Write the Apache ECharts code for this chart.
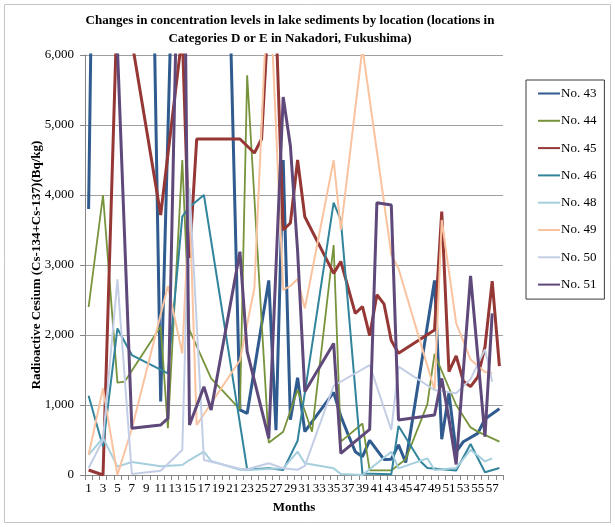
<!DOCTYPE html>
<html><head><meta charset="utf-8">
<script src="https://cdn.jsdelivr.net/npm/echarts@6/dist/echarts.min.js"></script>
<style>html,body{margin:0;padding:0;background:#fff}#c{width:615px;height:527px}</style>
</head><body><div id="c"></div>
<script>
// Months 1..58
const months = ['1','2','3','4','5','6','7','8','9','10','11','12','13','14','15','16','17','18','19','20','21','22','23','24','25','26','27','28','29','30','31','32','33','34','35','36','37','38','39','40','41','42','43','44','45','46','47','48','49','50','51','52','53','54','55','56','57','58'];
const yTicks = [0, 1000, 2000, 3000, 4000, 5000, 6000];
const seriesNames = ['No. 43','No. 44','No. 45','No. 46','No. 48','No. 49','No. 50','No. 51'];

const no43 = [3800,11400,null,null,null,null,null,null,null,7100,
  1050,null,8700,null,null,null,null,null,null,9200,
  null,930,880,null,null,2780,640,4500,790,1390,
  620,null,null,null,1180,840,580,333,262,495,
  null,220,225,430,180,null,null,null,2780,510,
  1170,330,476,null,595,800,null,945];
const no44 = [2400,null,4000,null,1320,1333,null,null,null,null,
  2120,667,null,4500,2070,null,null,1380,null,null,
  null,938,5710,null,null,462,null,619,null,1214,
  null,619,null,null,3285,476,null,null,735,65,
  null,null,65,null,225,null,null,1010,1730,null,
  null,1000,null,680,620,null,null,476];
const no45 = [71,null,0,null,6800,null,6200,null,null,null,
  3714,null,null,6300,3100,4800,null,null,null,null,
  null,4800,null,4600,4800,6670,6500,3500,3600,4500,
  3690,null,null,null,2880,3050,null,2310,2405,1990,
  2575,2440,1920,1738,null,null,null,null,2071,3762,
  1476,1700,1340,1262,1400,1830,2770,1555];
const no46 = [1133,null,405,null,2094,null,1714,null,null,null,
  null,1452,null,3690,3830,null,4000,null,null,null,
  null,null,80,null,null,95,null,70,null,490,
  null,null,null,null,3890,3640,null,null,20,null,
  null,null,10,700,null,null,200,100,null,null,
  null,65,null,443,null,40,null,100];
const no48 = [286,null,530,null,119,null,186,null,null,null,
  125,null,null,143,214,null,333,200,null,null,
  null,75,70,null,null,null,null,95,null,333,
  167,null,null,null,95,14,null,null,0,null,
  null,null,333,95,null,null,null,238,71,null,
  null,100,null,360,null,195,238,null];
const no49 = [286,null,1238,null,0,null,660,null,null,null,
  null,2700,null,1738,3900,714,null,null,null,null,
  null,1640,null,2667,null,7300,null,2643,2700,2800,
  2380,null,null,null,4500,3500,null,null,6100,null,
  null,null,3150,2950,null,null,null,null,1214,3643,
  null,2170,null,1650,null,1470,1452,null];
const no50 = [100,null,500,null,2795,null,14,null,null,null,
  62,null,null,357,4100,null,214,null,null,null,
  null,90,81,null,null,167,null,95,null,75,
  130,null,null,null,1275,null,null,null,null,1571,
  null,null,643,1548,null,null,null,null,1214,null,
  null,1167,null,1370,null,1795,1333,null];
const no51 = [null,null,null,null,6100,null,667,null,null,null,
  714,810,null,10600,714,null,1262,928,null,null,
  null,3190,1762,null,null,524,null,5400,4700,3200,
  1190,null,null,null,1880,310,null,null,null,652,
  3890,null,3856,785,null,null,null,null,857,1380,
  800,150,null,2845,null,548,2310,null];

const seriesData = [no43, no44, no45, no46, no48, no49, no50, no51];
const seriesColors = ['#2F5B8F','#77933C','#953735','#31849B','#A5CFDE','#FAC3A0','#C3CEE6','#5F497A'];
const seriesWidths = [3, 1.8, 3, 2, 2, 2, 2, 3];

const FONT = '"Liberation Serif","Times New Roman",serif';
const chart = echarts.init(document.getElementById('c'), null, {renderer: 'canvas'});
chart.setOption({
  animation: false,
  backgroundColor: '#ffffff',
  graphic: [
    {type: 'rect', silent: true, z: -10, shape: {x: 4.5, y: 4.5, width: 606, height: 518},
     style: {fill: 'none', stroke: '#c4c4c4', lineWidth: 1}},
    {type: 'text', x: 290, y: 12, silent: true,
     style: {text: 'Changes in concentration levels in lake sediments by location (locations in\nCategories D or E in Nakadori, Fukushima)',
       textAlign: 'center', textVerticalAlign: 'top', font: 'bold 13px ' + FONT, fill: '#000', lineHeight: 18}}
  ],
  grid: {left: 85, top: 55, right: 112, bottom: 52, containLabel: false},
  legend: {
    orient: 'vertical', left: 526, top: 80,
    data: seriesNames,
    itemWidth: 22, itemHeight: 14, itemGap: 14.3,
    padding: [7, 8, 8, 11],
    borderColor: '#3a3a3a', borderWidth: 1,
    itemStyle: {opacity: 0, borderWidth: 0},
    textStyle: {fontFamily: FONT, fontSize: 13, color: '#000', padding: [0, 0, 0, -4]}
  },
  xAxis: {
    type: 'category', data: months, boundaryGap: true,
    name: 'Months', nameLocation: 'middle', nameGap: 26,
    nameTextStyle: {fontFamily: FONT, fontWeight: 'bold', fontSize: 13, color: '#000'},
    axisLine: {lineStyle: {color: '#868686'}},
    axisTick: {show: true, interval: 0, length: 5, lineStyle: {color: '#868686'}},
    axisLabel: {interval: 1, fontFamily: FONT, fontSize: 13, color: '#000', margin: 7},
    splitLine: {show: false}
  },
  yAxis: {
    type: 'value', min: yTicks[0], max: yTicks[yTicks.length - 1], interval: yTicks[1] - yTicks[0],
    name: 'Radioactive Cesium (Cs-134+Cs-137)(Bq/kg)', nameLocation: 'middle', nameGap: 42,
    nameMoveOverlap: false,
    nameTextStyle: {fontFamily: FONT, fontWeight: 'bold', fontSize: 13, color: '#000'},
    axisLine: {show: true, lineStyle: {color: '#868686'}},
    axisTick: {show: true, length: 5, lineStyle: {color: '#868686'}},
    axisLabel: {fontFamily: FONT, fontSize: 13, color: '#000', margin: 11,
      formatter: v => String(v).replace(/\B(?=(\d{3})+(?!\d))/g, ',')},
    splitLine: {lineStyle: {color: '#a0a0a0', width: 1}}
  },
  series: seriesNames.map((n, i) => ({
    type: 'line', name: n, data: seriesData[i], connectNulls: true,
    symbol: 'none', showSymbol: false, clip: true,
    lineStyle: {color: seriesColors[i], width: seriesWidths[i]},
    itemStyle: {color: seriesColors[i]}
  }))
});
</script></body></html>
